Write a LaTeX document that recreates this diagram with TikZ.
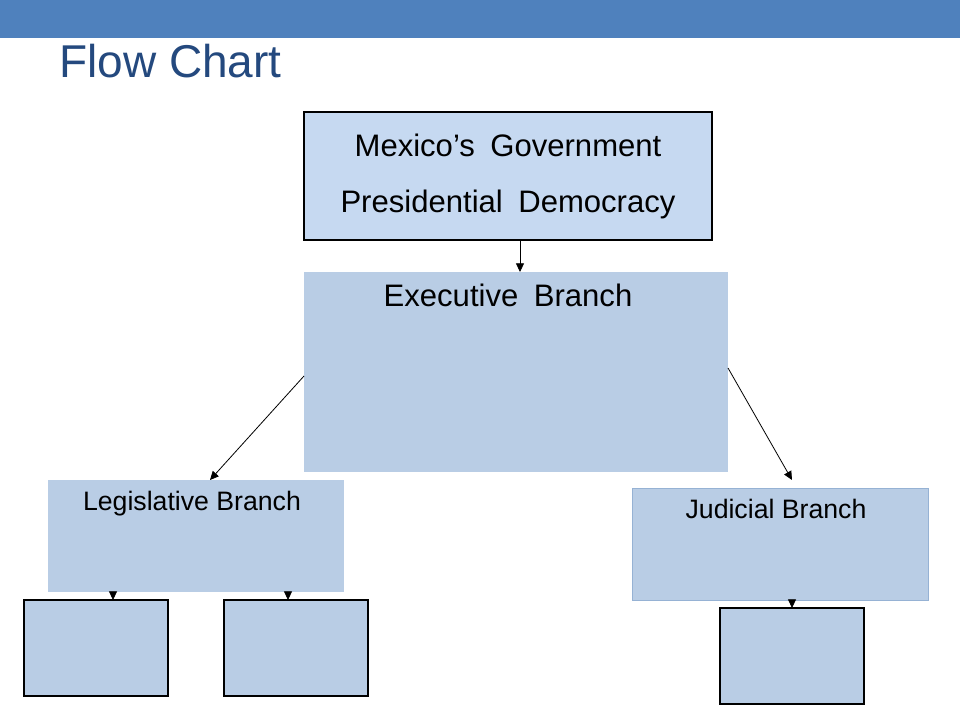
\documentclass[tikz,border=0pt]{standalone}
\usepackage{fontspec}
\setmainfont{Liberation Sans}
\usetikzlibrary{positioning,arrows.meta,calc}
\definecolor{barblue}{RGB}{79,129,189}
\definecolor{titleblue}{RGB}{36,73,126}
\definecolor{govfill}{RGB}{198,217,241}
\definecolor{boxfill}{RGB}{185,205,229}
\definecolor{judline}{RGB}{150,178,212}
\newcommand{\bigsp}{\hspace{0.5em}}

\begin{document}
\begin{tikzpicture}[x=0.75pt, y=-0.75pt,
  box/.style={rectangle, fill=boxfill, inner sep=0pt, outer sep=0pt},
  subbox/.style={box, draw=black, line width=0.8pt, minimum width=108pt, minimum height=72pt},
  arr/.style={line width=0.6pt, -{Triangle[length=6.5pt,width=6pt]}}]
\useasboundingbox (0,0) rectangle (960,720);

\fill[barblue] (0,0) rectangle (960,38);
\node[anchor=base west, inner sep=0pt, text=titleblue, font=\fontsize{34.5}{40}\selectfont] (title) at (59,78) {Flow Chart};

\node[box, fill=govfill, draw=black, line width=0.8pt, minimum width=306pt, minimum height=96pt, align=center,
  font=\fontsize{23.3}{42}\selectfont] (gov) at (508,176) {Mexico’s\bigsp Government\\Presidential\bigsp Democracy};

\node[box, minimum width=318pt, minimum height=150pt,
  label={[anchor=north, inner sep=0pt, xshift=-6pt, yshift=-9pt, font=\fontsize{23.3}{27}\selectfont]north:Executive\bigsp Branch}] (exec) at (516,372) {};

\node[box, minimum width=222pt, minimum height=84pt,
  label={[anchor=north, inner sep=0pt, xshift=-3pt, yshift=-8pt, font=\fontsize{20}{24}\selectfont]north:Legislative Branch}] (leg) at (196,536) {};
\node[box, draw=judline, line width=0.6pt, minimum width=222pt, minimum height=84pt,
  label={[anchor=north, inner sep=0pt, xshift=-3pt, yshift=-8pt, font=\fontsize{20}{24}\selectfont]north:Judicial Branch}] (jud) at (780,544) {};

\node[subbox] (legA) at (96,648) {};
\node[subbox] (legB) at (296,648) {};
\node[subbox] (judA) at (792,656) {};

\draw[arr] ([xshift=9pt]gov.south) -- ([xshift=3pt]exec.north);
\draw[arr] ([yshift=-3pt]exec.west) -- ([xshift=10.5pt]leg.north);
\draw[arr] ([yshift=3pt]exec.east) -- ([xshift=9pt,yshift=6pt]jud.north);
\draw[arr] ([xshift=12.75pt,yshift=6pt]legA.north) -- ([xshift=12.75pt]legA.north);
\draw[arr] ([xshift=-6pt,yshift=6pt]legB.north) -- ([xshift=-6pt]legB.north);
\draw[arr] ([yshift=6pt]judA.north) -- (judA.north);
\end{tikzpicture}
\end{document}
